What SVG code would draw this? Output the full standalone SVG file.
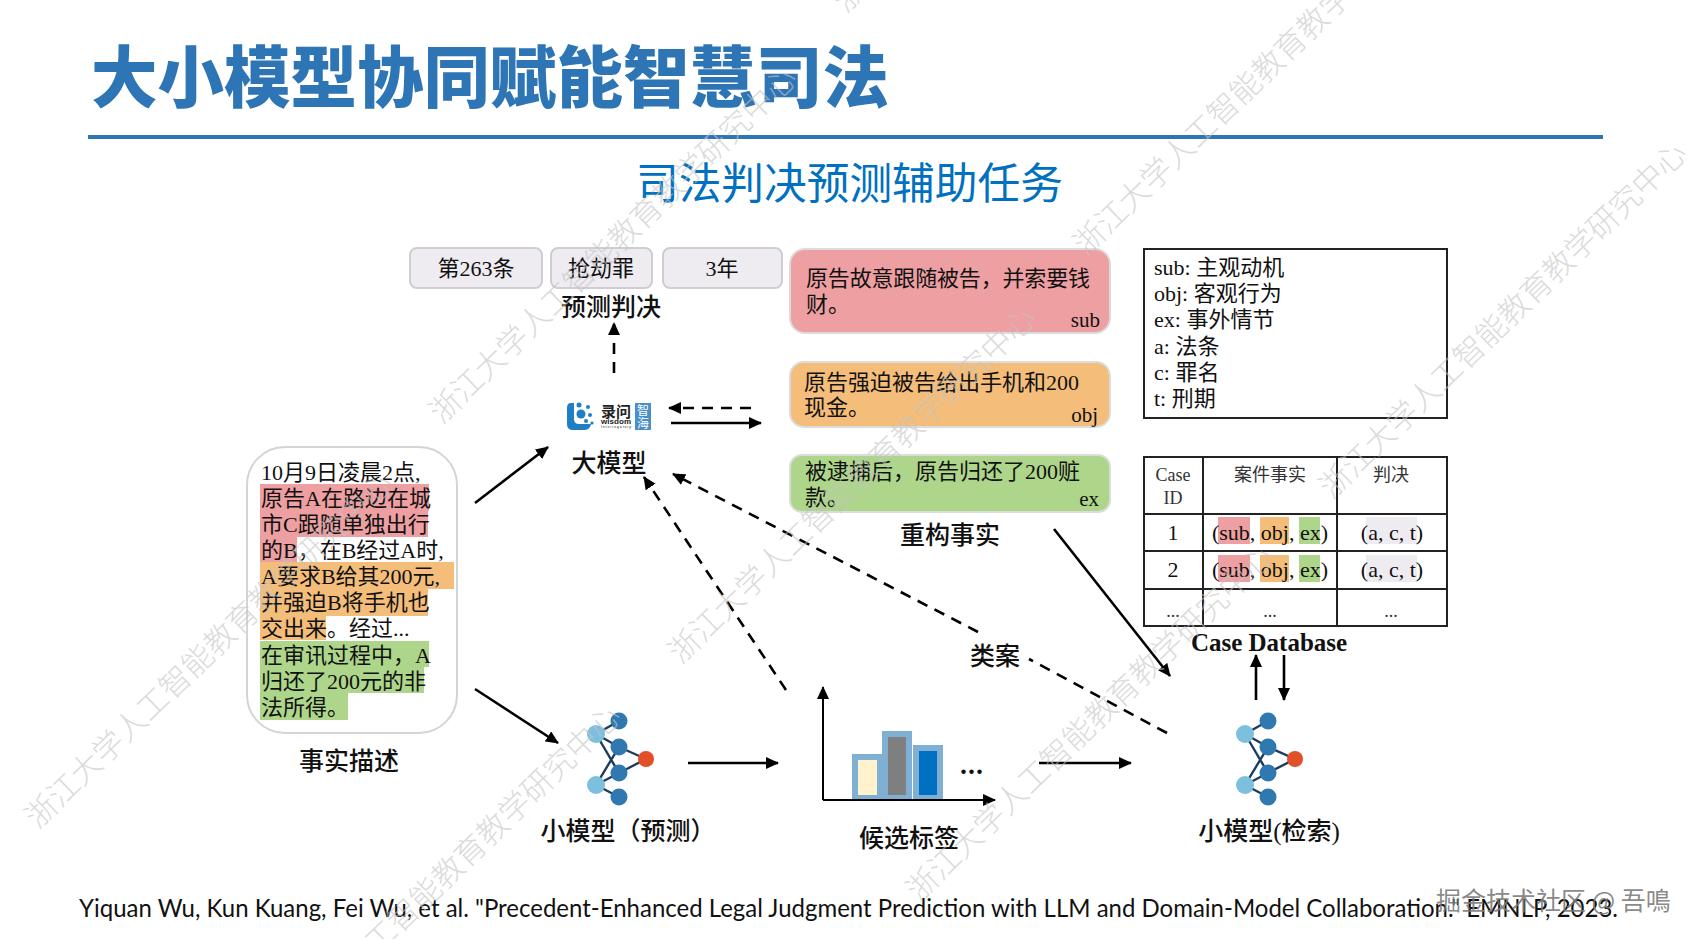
<svg xmlns="http://www.w3.org/2000/svg" width="1695" height="939" viewBox="0 0 1695 939">
<style>
text{font-family:"Liberation Serif","Noto Sans CJK SC",serif;fill:#111;font-size:22px}
.c{text-anchor:middle}
.r{text-anchor:end}
.lab{font-size:25px;text-anchor:middle;font-weight:500}
.sm{font-size:18px;text-anchor:middle;fill:#333}
.wm{font-family:"Noto Sans CJK SC",sans-serif;font-size:31px;font-weight:300;fill:#c4c4c4;fill-opacity:.62}
.tag{fill:#eeebf1;stroke:#cfcdd2;stroke-width:2}
.pill{stroke:#dcdcdc;stroke-width:2}
.cell{fill:none;stroke:#222;stroke-width:2}
.s{fill:none;stroke:#000;stroke-width:2.6;marker-end:url(#h)}
.d{fill:none;stroke:#000;stroke-width:2.6;stroke-dasharray:11 8;marker-end:url(#h)}
.dn{fill:none;stroke:#000;stroke-width:2.6;stroke-dasharray:11 8}
.e{stroke:#1c3d5e;stroke-width:2.4;fill:none}
.n{fill:#2f78b0}.l{fill:#7cc0de}.o{fill:#e2502a}
.bar{stroke:#7fafd3;stroke-width:6}
</style>
<defs>
<marker id="h" markerUnits="userSpaceOnUse" markerWidth="13" markerHeight="12" refX="12" refY="6" orient="auto" viewBox="0 0 13 12"><path d="M0 0L13 6L0 12z" fill="#000"/></marker>
<g id="net">
<path class="e" d="M596 734L619 721M596 734L619 747M596 734L619 773M596 785L619 747M596 785L619 773M596 785L619 797M619 747L646 759M619 773L646 759"/>
<circle class="n" cx="619" cy="721" r="8.5"/><circle class="n" cx="619" cy="747" r="8.5"/><circle class="n" cx="619" cy="773" r="8.5"/><circle class="n" cx="619" cy="797" r="8.5"/>
<circle class="o" cx="646" cy="759" r="8"/><circle class="l" cx="596" cy="734" r="9"/><circle class="l" cx="596" cy="785" r="9"/>
</g>
</defs>
<rect width="1695" height="939" fill="#fff"/>

<g id="title">
<text x="91" y="102" style="font-family:'Noto Sans CJK SC',sans-serif;font-size:66.5px;font-weight:900;fill:#2e75b6">大小模型协同赋能智慧司法</text>
<path d="M88 137H1603" stroke="#2e75b6" stroke-width="4"/>
<text x="636" y="199" style="font-family:'Noto Sans CJK SC',sans-serif;font-size:42.7px;fill:#0070c0">司法判决预测辅助任务</text>
</g>

<g id="verdict-tags">
<rect class="tag" x="410" y="248" width="132" height="40" rx="7"/><text class="c" x="476" y="276">第263条</text>
<rect class="tag" x="551" y="248" width="101" height="40" rx="7"/><text class="c" x="601" y="276">抢劫罪</text>
<rect class="tag" x="663" y="248" width="119" height="40" rx="7"/><text class="c" x="722" y="276">3年</text>
<text class="lab" x="611" y="316">预测判决</text>
</g>

<g id="fact-sub">
<rect class="pill" x="790" y="249" width="320" height="84" rx="15" fill="#ee9fa1"/>
<text x="806" y="286" textLength="284">原告故意跟随被告，并索要钱</text><text x="806" y="312">财。</text>
<text class="r" x="1100" y="327" style="font-size:21px">sub</text>
</g>
<g id="fact-obj">
<rect class="pill" x="790" y="362" width="320" height="65" rx="14" fill="#f5bd7a"/>
<text x="804" y="390">原告强迫被告给出手机和200</text><text x="804" y="415">现金。</text>
<text class="r" x="1098" y="422" style="font-size:21px">obj</text>
</g>
<g id="fact-ex">
<rect class="pill" x="790" y="455" width="320" height="57" rx="12" fill="#aed68a"/>
<text x="805" y="479">被逮捕后，原告归还了200赃</text><text x="805" y="505">款。</text>
<text class="r" x="1099" y="506" style="font-size:21px">ex</text>
<text class="lab" x="950" y="544">重构事实</text>
</g>

<g id="legend">
<rect x="1144" y="249" width="303" height="169" fill="#fff" stroke="#222" stroke-width="2"/>
<text x="1154" y="275">sub: 主观动机</text><text x="1154" y="301">obj: 客观行为</text><text x="1154" y="327">ex: 事外情节</text>
<text x="1154" y="354">a: 法条</text><text x="1154" y="380">c: 罪名</text><text x="1154" y="406">t: 刑期</text>
</g>

<g id="case-table">
<rect x="1218" y="517" width="32" height="27" fill="#ee9fa1"/><rect x="1260" y="517" width="29" height="27" fill="#f5bd7a"/><rect x="1299" y="517" width="21" height="27" fill="#aed68a"/><rect x="1366" y="517" width="51" height="27" fill="#eeebf1"/>
<rect x="1218" y="555" width="32" height="27" fill="#ee9fa1"/><rect x="1260" y="555" width="29" height="27" fill="#f5bd7a"/><rect x="1299" y="555" width="21" height="27" fill="#aed68a"/><rect x="1366" y="555" width="51" height="27" fill="#eeebf1"/>
<rect class="cell" x="1144" y="457" width="303" height="169"/>
<path class="cell" d="M1203 457V626M1337 457V626M1144 514H1447M1144 551H1447M1144 589H1447"/>
<text class="sm" x="1173" y="481">Case</text><text class="sm" x="1173" y="504">ID</text>
<text class="sm" x="1270" y="481">案件事实</text><text class="sm" x="1391" y="481">判决</text>
<text class="c" x="1173" y="540">1</text><text class="c" x="1270" y="540">(sub, obj, ex)</text><text class="c" x="1392" y="540">(a, c, t)</text>
<text class="c" x="1173" y="577">2</text><text class="c" x="1270" y="577">(sub, obj, ex)</text><text class="c" x="1392" y="577">(a, c, t)</text>
<text class="sm" x="1173" y="617">...</text><text class="sm" x="1270" y="617">...</text><text class="sm" x="1391" y="617">...</text>
<text x="1269" y="651" class="c" style="font-size:25px;font-weight:700">Case Database</text>
</g>

<g id="fact-description">
<rect x="247" y="447" width="210" height="286" rx="38" fill="#fff" stroke="#d4d4d4" stroke-width="2"/>
<rect x="260" y="484" width="169" height="27" fill="#ee9fa1"/><rect x="260" y="511" width="168" height="26" fill="#ee9fa1"/><rect x="260" y="537" width="37" height="25" fill="#ee9fa1"/>
<rect x="260" y="562" width="194" height="27" fill="#f5bd7a"/><rect x="260" y="589" width="168" height="27" fill="#f5bd7a"/><rect x="260" y="616" width="66" height="24" fill="#f5bd7a"/>
<rect x="260" y="641" width="169" height="26" fill="#aed68a"/><rect x="260" y="667" width="164" height="26" fill="#aed68a"/><rect x="260" y="693" width="88" height="27" fill="#aed68a"/>
<text x="261" y="480">10月9日凌晨2点,</text>
<text x="261" y="506">原告A在路边在城</text>
<text x="261" y="532">市C跟随单独出行</text>
<text x="261" y="558">的B，在B经过A时,</text>
<text x="261" y="584">A要求B给其200元,</text>
<text x="261" y="610">并强迫B将手机也</text>
<text x="261" y="636">交出来。经过...</text>
<text x="261" y="663">在审讯过程中，A</text>
<text x="261" y="689">归还了200元的非</text>
<text x="261" y="715">法所得。</text>
<text class="lab" x="349" y="770">事实描述</text>
</g>

<g id="large-model">
<path d="M567 408q0-5 4-5h3v16q0 5 5 5h12q-1 6-7 6h-11q-6 0-6-6z" fill="#1f7fc4"/>
<circle cx="581" cy="414" r="4.5" fill="#1f7fc4"/><circle cx="579" cy="405" r="2.5" fill="#1f7fc4"/><circle cx="588" cy="407" r="2" fill="#1f7fc4"/><circle cx="590" cy="415" r="2" fill="#1f7fc4"/><circle cx="586" cy="421" r="2" fill="#1f7fc4"/><circle cx="592" cy="423" r="1.6" fill="#1f7fc4"/>
<text x="601" y="416.5" style="font-family:'Noto Sans CJK SC',sans-serif;font-size:15px;font-weight:700;fill:#222">录问</text>
<text x="601" y="423.5" textLength="30" style="font-family:'Liberation Sans',sans-serif;font-size:8px;font-weight:700;fill:#222">wisdom</text>
<text x="601" y="428" textLength="30" style="font-family:'Liberation Sans',sans-serif;font-size:3.5px;fill:#222">Interrogatory</text>
<rect x="635" y="403" width="16" height="27" fill="#4a90c8"/>
<text x="643" y="415" class="c" style="font-family:'Noto Sans CJK SC',sans-serif;font-size:12px;fill:#fff">智</text><text x="643" y="428" class="c" style="font-family:'Noto Sans CJK SC',sans-serif;font-size:12px;fill:#fff">海</text>
<text class="lab" x="609" y="472">大模型</text>
</g>

<g id="small-model-predict"><use href="#net"/><text class="lab" x="628" y="840">小模型（预测）</text></g>
<g id="small-model-retrieve"><use href="#net" x="649"/><text class="lab" x="1269" y="840">小模型(检索)</text></g>

<g id="candidates">
<rect class="bar" x="855" y="757" width="25" height="41" fill="#fff2cc"/>
<rect class="bar" x="885" y="734" width="24" height="64" fill="#7f7f7f"/>
<rect class="bar" x="916" y="748" width="24" height="50" fill="#0070c0"/>
<text x="960" y="774" style="font-size:28px;font-weight:700;letter-spacing:1px">...</text>
<text class="lab" x="909" y="847">候选标签</text>
</g>

<g id="connectors">
<path class="d" d="M614 373V323"/>
<path class="d" d="M751 408H669"/>
<path class="s" d="M671 423H761"/>
<path class="s" d="M475 503L548 447"/>
<path class="s" d="M475 689L558 743"/>
<path class="d" d="M786 690L644 477"/>
<path class="d" d="M978 632L673 474"/>
<path class="dn" d="M1167 733L1029 659"/>
<path class="s" d="M1054 529L1170 676"/>
<path class="s" d="M1256 700V655"/>
<path class="s" d="M1284 655V700"/>
<path class="s" d="M688 763H778"/>
<path class="s" d="M1039 763H1131"/>
<path class="s" d="M823 800V687" style="stroke-width:2"/>
<path class="s" d="M823 800H995" style="stroke-width:2"/>
<text class="lab" x="995" y="665">类案</text>
</g>

<g id="citation">
<text x="79" y="917" textLength="1539" lengthAdjust="spacingAndGlyphs" style="font-family:Lato,'Liberation Sans',sans-serif;font-size:25px">Yiquan Wu, Kun Kuang, Fei Wu, et al. "Precedent-Enhanced Legal Judgment Prediction with LLM and Domain-Model Collaboration." EMNLP, 2023.</text>
</g>

<g id="watermarks">
<text class="wm" transform="translate(38 830) rotate(-44)">浙江大学人工智能教育教学研究中心</text>
<text class="wm" transform="translate(442 425) rotate(-44)">浙江大学人工智能教育教学研究中心</text>
<text class="wm" transform="translate(681 665) rotate(-44)">浙江大学人工智能教育教学研究中心</text>
<text class="wm" transform="translate(1086 257) rotate(-44)">浙江大学人工智能教育教学研究中心</text>
<text class="wm" transform="translate(1332 500) rotate(-44)">浙江大学人工智能教育教学研究中心</text>
<text class="wm" transform="translate(919 903) rotate(-44)">浙江大学人工智能教育教学研究中心</text>
<text class="wm" transform="translate(266 1063) rotate(-44)">浙江大学人工智能教育教学研究中心</text>
<text class="wm" transform="translate(846 14) rotate(-44)">浙江大学人工智能教育教学研究中心</text>
<text x="1436" y="910" style="font-family:'Noto Sans CJK SC',sans-serif;font-size:25px;fill:#7a7a7a;fill-opacity:.9">掘金技术社区 @ 吾鳴</text>
</g>
</svg>
